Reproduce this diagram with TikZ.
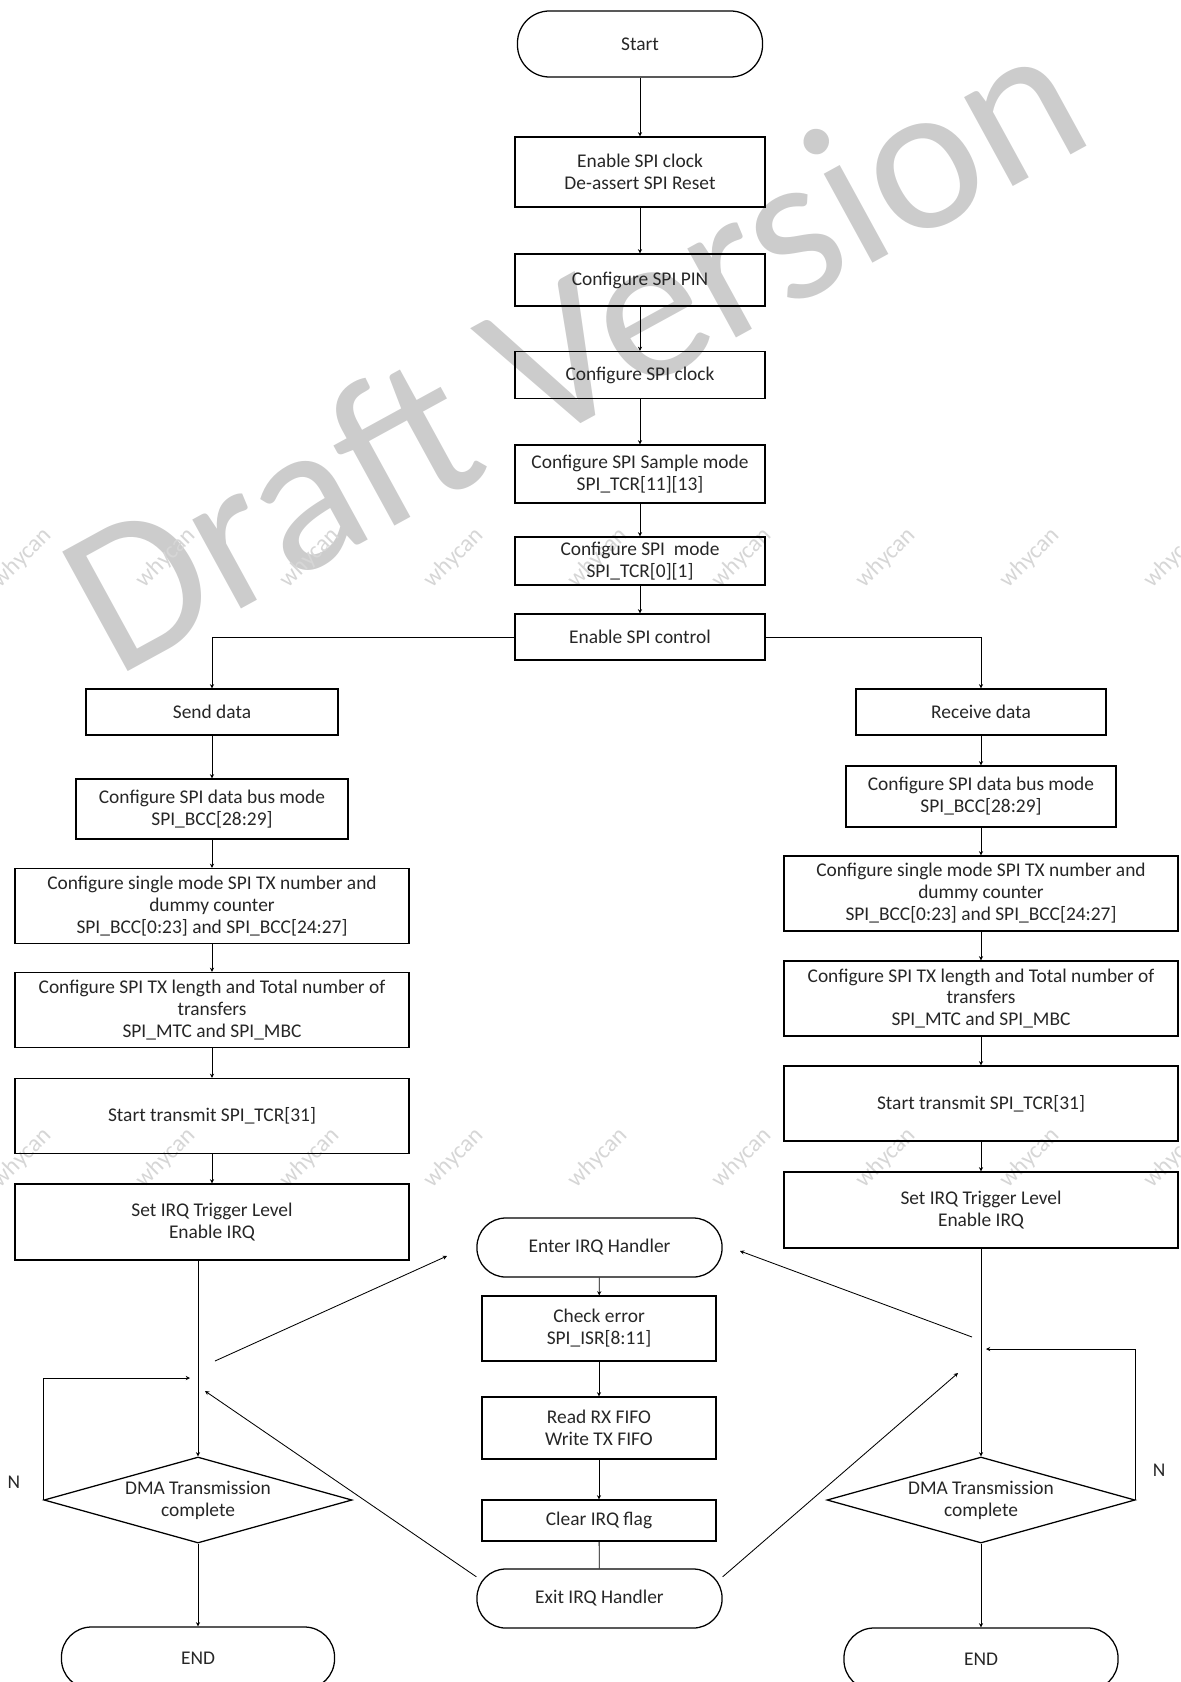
\documentclass[tikz,border=0pt]{standalone}
\usepackage{fontspec}
\setmainfont{Carlito}
\usetikzlibrary{arrows.meta, shapes.geometric}

\begin{document}
\begin{tikzpicture}[
    x=0.025cm, y=-0.025cm,
    font=\fontsize{13.8}{15.6}\selectfont,
    text=black!85,
    >={Stealth[length=3pt,width=3pt]},
    stepbox/.style={
        draw=black,
        line width=0.9pt,
        align=center,
        inner sep=2pt,
        minimum width=6.25cm
    },
    widebox/.style={
        stepbox,
        minimum width=9.85cm,
        minimum height=1.875cm
    },
    termbox/.style={
        draw=black,
        line width=0.9pt,
        rounded corners=0.72cm,
        minimum width=6.125cm,
        minimum height=1.475cm,
        align=center
    },
    decision/.style={
        draw=black,
        line width=0.9pt,
        diamond,
        aspect=3.6,
        inner sep=0pt,
        align=center,
        minimum width=7.7cm,
        minimum height=2.15cm
    },
    wmtext/.style={text=black!16, rotate=45, font=\fontsize{17}{17}\selectfont},
    flow/.style={->, line width=0.6pt},
    plainline/.style={line width=0.6pt}
]
\useasboundingbox (0,0) rectangle (1181,1682);
% ============================================================
% WATERMARKS
% ============================================================
\node[text=black!20, rotate=28.7, font=\fontsize{151}{151}\selectfont]
    (draft) at (572,346) {Draft Version};
\foreach \i in {0,...,8} {
    \node[wmtext] (wma\i) at (22+144*\i,558) {whycan};
    \node[wmtext] (wmb\i) at (22+144*\i,1158) {whycan};
}
% ============================================================
% MAIN COLUMN -- set-up steps
% ============================================================
\node[termbox, minimum width=6.125cm, minimum height=1.65cm, rounded corners=0.8cm]
    (start) at (640,44) {Start};
\node[stepbox, minimum height=1.75cm] (clk) at (640,172)
    {Enable SPI clock\\De-assert SPI Reset};
\node[stepbox, minimum height=1.3cm] (pin) at (640,280)
    {Configure SPI PIN};
\node[stepbox, minimum height=1.175cm] (sclk) at (640,375)
    {Configure SPI clock};
\node[stepbox, minimum height=1.45cm] (smode) at (640,474)
    {Configure SPI Sample mode\\SPI\_TCR[11][13]};
\node[stepbox, minimum height=1.2cm] (mode) at (640,561)
    {Configure SPI\ \ mode\\SPI\_TCR[0][1]};
\node[stepbox, minimum height=1.15cm] (ctrl) at (640,637)
    {Enable SPI control};
% ============================================================
% LEFT COLUMN -- send data
% ============================================================
\node[stepbox, minimum width=6.3cm, minimum height=1.15cm] (send) at (212,712)
    {Send data};
\node[stepbox, minimum width=6.8cm, minimum height=1.5cm] (lbus) at (212,809)
    {Configure SPI data bus mode\\SPI\_BCC[28:29]};
\node[widebox] (lcnt) at (212,906)
    {Configure single mode SPI TX number and\\dummy counter\\SPI\_BCC[0:23] and SPI\_BCC[24:27]};
\node[widebox] (llen) at (212,1010)
    {Configure SPI TX length and Total number of\\transfers\\SPI\_MTC and SPI\_MBC};
\node[widebox] (lstart) at (212,1116)
    {Start transmit SPI\_TCR[31]};
\node[widebox, minimum height=1.9cm] (lirq) at (212,1222)
    {Set IRQ Trigger Level\\Enable IRQ};
\node[decision] (ldma) at (198,1500)
    {DMA Transmission\\complete};
\node[termbox, minimum width=6.825cm, minimum height=1.55cm, rounded corners=0.75cm]
    (lend) at (198,1658) {END};
\node (ln) at (14,1482) {N};
% ============================================================
% RIGHT COLUMN -- receive data
% ============================================================
\node[stepbox, minimum height=1.15cm] (recv) at (981,712)
    {Receive data};
\node[stepbox, minimum width=6.75cm, minimum height=1.525cm] (rbus) at (981,796.5)
    {Configure SPI data bus mode\\SPI\_BCC[28:29]};
\node[widebox] (rcnt) at (981,893.5)
    {Configure single mode SPI TX number and\\dummy counter\\SPI\_BCC[0:23] and SPI\_BCC[24:27]};
\node[widebox] (rlen) at (981,998.5)
    {Configure SPI TX length and Total number of\\transfers\\SPI\_MTC and SPI\_MBC};
\node[widebox] (rstart) at (981,1103.5)
    {Start transmit SPI\_TCR[31]};
\node[widebox, minimum height=1.9cm] (rirq) at (981,1210)
    {Set IRQ Trigger Level\\Enable IRQ};
\node[decision] (rdma) at (981,1500)
    {DMA Transmission\\complete};
\node[termbox, minimum width=6.85cm, minimum height=1.55cm, rounded corners=0.75cm]
    (rend) at (981,1659) {END};
\node (rn) at (1159,1470) {N};
% ============================================================
% MIDDLE COLUMN -- IRQ handler
% ============================================================
\node[termbox] (enter) at (599.5,1247.5) {Enter IRQ Handler};
\node[stepbox, minimum width=5.85cm, minimum height=1.625cm] (chk) at (599,1328.5)
    {Check error\\SPI\_ISR[8:11]};
\node[stepbox, minimum width=5.85cm, minimum height=1.55cm] (rw) at (599,1428)
    {Read RX FIFO\\Write TX FIFO};
\node[stepbox, minimum width=5.85cm, minimum height=1.025cm] (clr) at (599,1520.5)
    {Clear IRQ flag};
\node[termbox] (exit) at (599.5,1598.5) {Exit IRQ Handler};
% free ends of the loop and IRQ arrows
\coordinate (lloop) at (190,1378);
\coordinate (rloop) at (986,1349);
\coordinate (lirqa) at (215,1361);
\coordinate (lirqb) at (447,1256);
\coordinate (lreta) at (205,1391);
\coordinate (rirqa) at (972,1337);
\coordinate (rirqb) at (740,1251);
\coordinate (rreta) at (958,1373);
% ============================================================
% FLOW ARROWS
% ============================================================
\draw[flow] (start) -- (clk);
\draw[flow] (clk)   -- (pin);
\draw[flow] (pin)   -- (sclk);
\draw[flow] (sclk)  -- (smode);
\draw[flow] (smode) -- (mode);
\draw[flow] (mode)  -- (ctrl);
\draw[flow] (ctrl.west) -| (send.north);
\draw[flow] (ctrl.east) -| (recv.north);
% left branch
\draw[flow] (send)   -- (lbus);
\draw[flow] (lbus)   -- (lcnt);
\draw[flow] (lcnt)   -- (llen);
\draw[flow] (llen)   -- (lstart);
\draw[flow] (lstart) -- (lirq);
\draw[flow] (ldma.north |- lirq.south) -- (ldma.north);
\draw[flow] (ldma.west) |- (lloop);
\draw[flow] (ldma.south) -- (ldma.south |- lend.north);
% right branch
\draw[flow] (recv)   -- (rbus);
\draw[flow] (rbus)   -- (rcnt);
\draw[flow] (rcnt)   -- (rlen);
\draw[flow] (rlen)   -- (rstart);
\draw[flow] (rstart) -- (rirq);
\draw[flow] (rdma.north |- rirq.south) -- (rdma.north);
\draw[flow] (rdma.east) |- (rloop);
\draw[flow] (rdma.south) -- (rdma.south |- rend.north);
% IRQ handler
\draw[flow] (enter) -- (chk);
\draw[flow] (chk)   -- (rw);
\draw[flow] (rw)    -- (clr);
\draw[plainline] (clr) -- (exit);
\draw[flow] (lirqa) -- (lirqb);
\draw[flow] (rirqa) -- (rirqb);
\draw[flow] (exit.170) -- (lreta);
\draw[flow] (exit.10)  -- (rreta);
\end{tikzpicture}
\end{document}
